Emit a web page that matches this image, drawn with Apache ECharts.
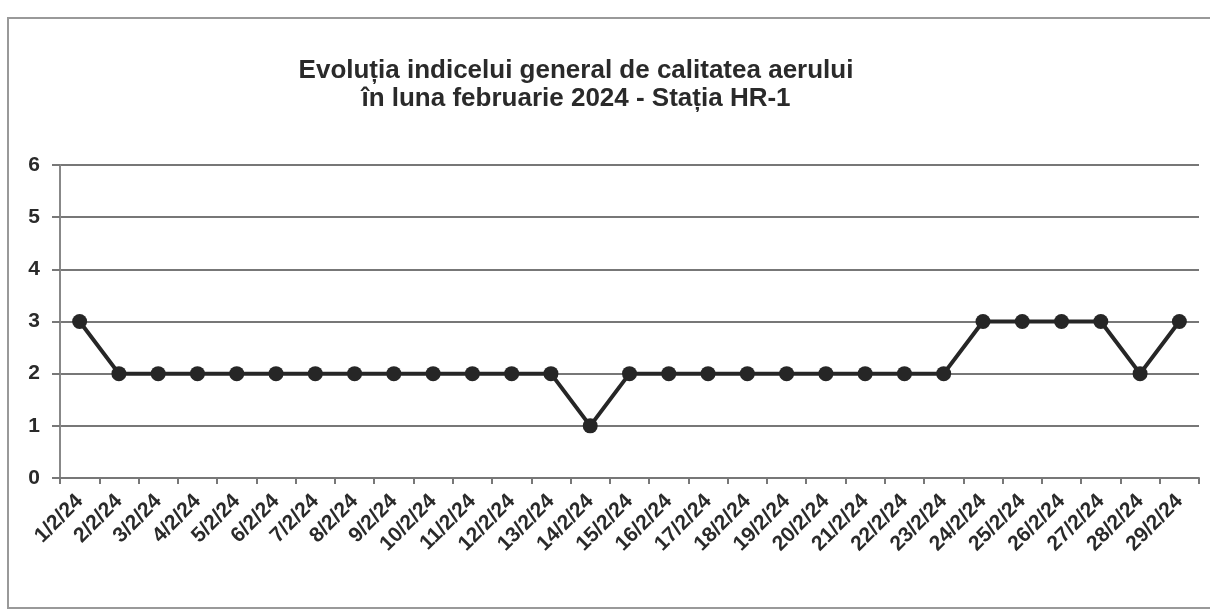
<!DOCTYPE html>
<html>
<head>
<meta charset="utf-8">
<script src="https://cdn.jsdelivr.net/npm/echarts@6/dist/echarts.min.js"></script>
<style>
  html, body { margin: 0; padding: 0; background: #fff; }
  #chart { width: 1210px; height: 613px; }
</style>
</head>
<body>
<div id="chart"></div>
<script>
const titleLines = ["Evoluția indicelui general de calitatea aerului", "în luna februarie 2024 - Stația HR-1"];
const days = [
  "1/2/24", "2/2/24", "3/2/24", "4/2/24", "5/2/24", "6/2/24", "7/2/24", "8/2/24", "9/2/24", "10/2/24",
  "11/2/24", "12/2/24", "13/2/24", "14/2/24", "15/2/24", "16/2/24", "17/2/24", "18/2/24", "19/2/24", "20/2/24",
  "21/2/24", "22/2/24", "23/2/24", "24/2/24", "25/2/24", "26/2/24", "27/2/24", "28/2/24", "29/2/24",
];
const indexValues = [3, 2, 2, 2, 2, 2, 2, 2, 2, 2, 2, 2, 2, 1, 2, 2, 2, 2, 2, 2, 2, 2, 2, 3, 3, 3, 3, 2, 3];
const yMin = 0, yMax = 6, yStep = 1;

const chart = echarts.init(document.getElementById("chart"), null, { renderer: "canvas" });
const font = "'Liberation Sans', Arial, sans-serif";

chart.setOption({
  backgroundColor: "#fff",
  animation: false,
  title: {
    text: titleLines.join("\n"),
    left: 571, top: 52, textAlign: "center",
    textStyle: { fontFamily: font, fontSize: 26, fontWeight: "bold", color: "#2a2a2a", lineHeight: 28 },
  },
  graphic: [{
    type: "rect", silent: true,
    shape: { x: 8, y: 18, width: 1220, height: 590 },
    style: { fill: null, stroke: "#999", lineWidth: 2 },
  }],
  grid: { left: 60, right: 11, top: 165, bottom: 135, containLabel: false },
  xAxis: {
    type: "category",
    data: days,
    boundaryGap: true,
    axisLine: { lineStyle: { color: "#777", width: 2 } },
    axisTick: { show: true, length: 6, lineStyle: { color: "#777", width: 2 } },
    axisLabel: {
      rotate: 45, interval: 0, margin: 20,
      fontFamily: font, fontSize: 21, fontWeight: "bold", color: "#2a2a2a",
    },
  },
  yAxis: {
    type: "value",
    min: yMin, max: yMax, interval: yStep,
    axisLine: { show: true, lineStyle: { color: "#888", width: 2 } },
    axisTick: { show: true, length: 8, lineStyle: { color: "#777", width: 2 } },
    splitLine: { lineStyle: { color: "#777", width: 2 } },
    axisLabel: { margin: 20, fontFamily: font, fontSize: 21, fontWeight: "bold", color: "#2a2a2a" },
  },
  series: [{
    type: "line",
    data: indexValues,
    symbol: "circle",
    symbolSize: 15,
    showSymbol: true,
    lineStyle: { color: "#262626", width: 4 },
    itemStyle: { color: "#262626" },
  }],
});
</script>
</body>
</html>
